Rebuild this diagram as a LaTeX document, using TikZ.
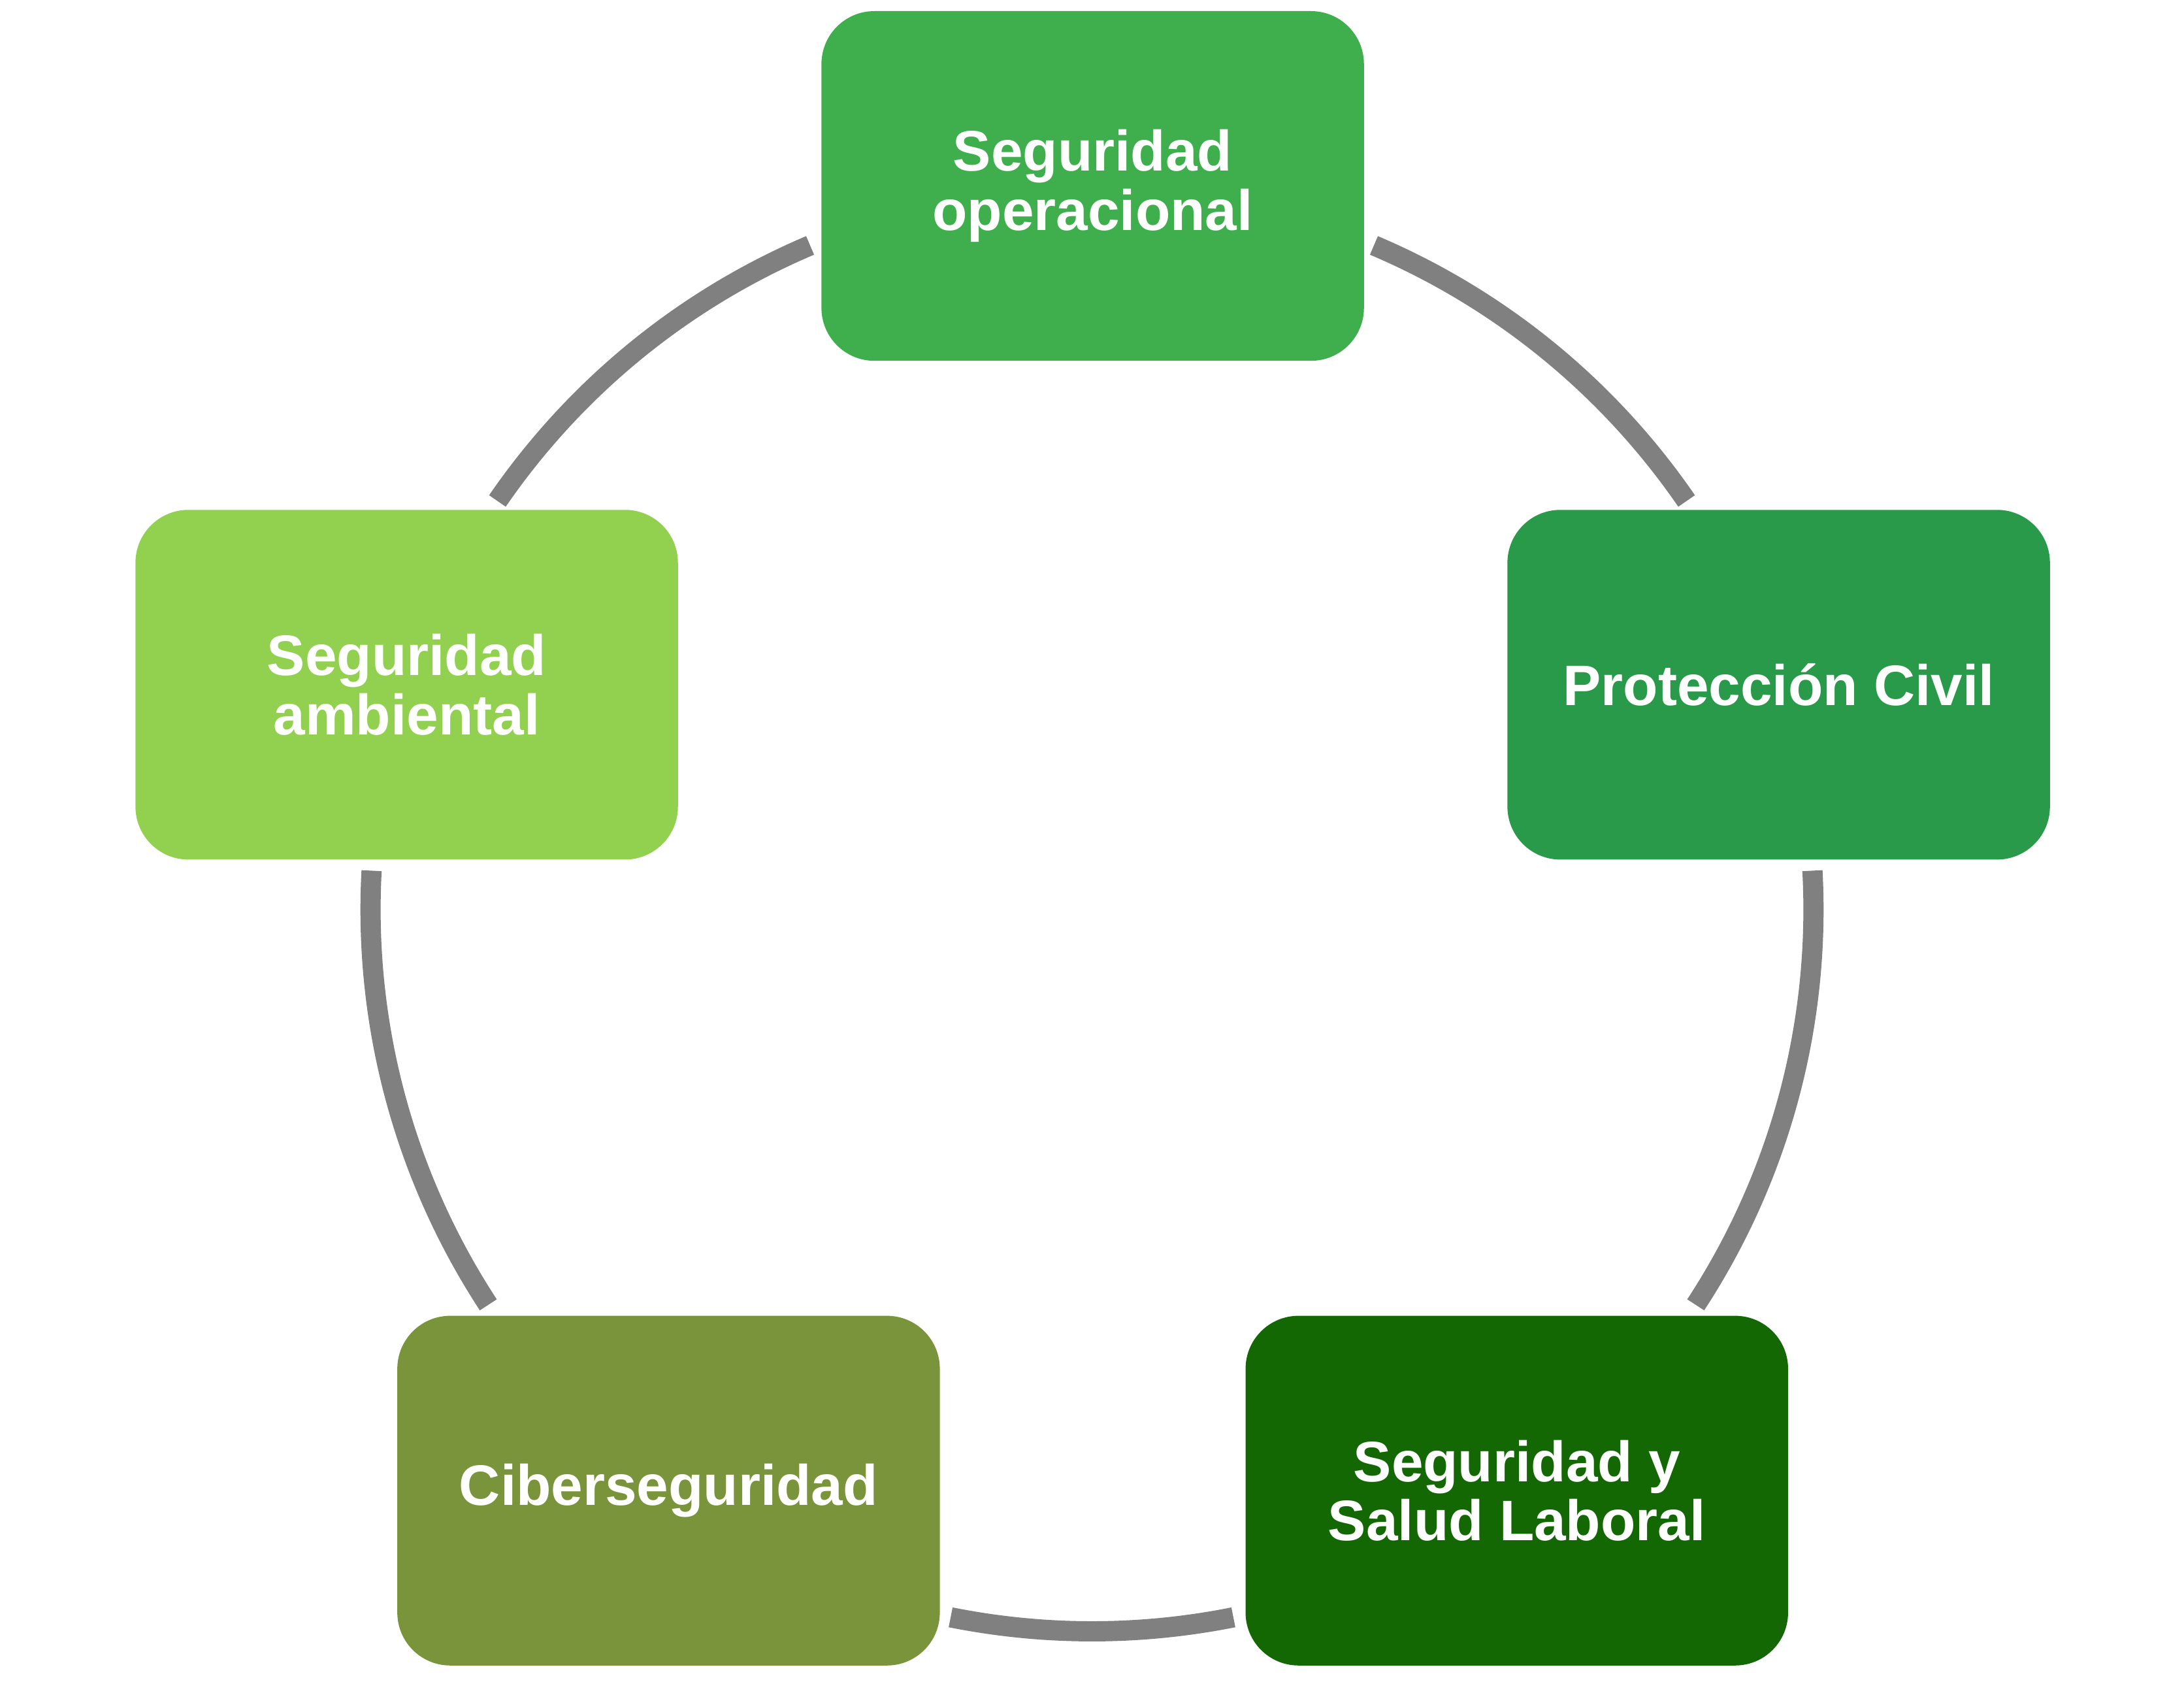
\documentclass[tikz,border=0pt]{standalone}
\usepackage{fontspec}
\setmainfont{Liberation Sans}
\definecolor{cTop}{RGB}{63,175,77}
\definecolor{cRight}{RGB}{40,154,73}
\definecolor{cBR}{RGB}{19,104,4}
\definecolor{cBL}{RGB}{122,148,60}
\definecolor{cLeft}{RGB}{146,208,80}
\definecolor{arcgray}{RGB}{128,128,128}
\begin{document}
\begin{tikzpicture}[x=0.1mm,y=0.1mm,
  box/.style={rounded corners=3.8mm, minimum width=38.95mm, minimum height=25.1mm,
    inner sep=0pt, text=white, align=center,
    font=\fontsize{11.66}{12.1}\selectfont\bfseries},
  link/.style={draw=arcgray, line width=1.45mm, line cap=butt}]
\useasboundingbox (0,0) rectangle (1568,1218);
\coordinate (c) at (784,565);
\node[box, fill=cTop]   (top) at (784.5,1084.5) {Seguridad\\operacional};
\node[box, fill=cRight] (right) at (1277,726.5) {Protección Civil};
\node[box, fill=cBR]    (br) at (1089,148) {Seguridad y\\Salud Laboral};
\node[box, fill=cBL]    (bl) at (480,148) {Ciberseguridad};
\node[box, fill=cLeft]  (left) at (292,726.5) {Seguridad\\ambiental};
\draw[link] ([shift={(c)}]67:51.8mm) arc[start angle=67, end angle=34.5, radius=51.8mm];
\draw[link] ([shift={(c)}]3.1:51.8mm) arc[start angle=3.1, end angle=-33.2, radius=51.8mm];
\draw[link] ([shift={(c)}]-78.7:51.8mm) arc[start angle=-78.7, end angle=-101.3, radius=51.8mm];
\draw[link] ([shift={(c)}]213.2:51.8mm) arc[start angle=213.2, end angle=176.9, radius=51.8mm];
\draw[link] ([shift={(c)}]145.5:51.8mm) arc[start angle=145.5, end angle=113, radius=51.8mm];
\end{tikzpicture}
\end{document}
